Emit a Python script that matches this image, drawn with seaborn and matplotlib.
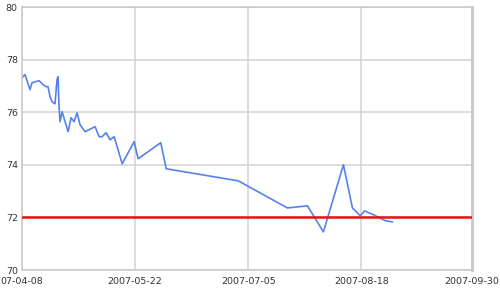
import matplotlib
matplotlib.use("Agg")
import matplotlib.pyplot as plt
import seaborn as sns
import pandas as pd

times = [
    "2007-04-08 00:00", "2007-04-09 04:00", "2007-04-11 03:00", "2007-04-11 21:00",
    "2007-04-14 15:00", "2007-04-16 04:00", "2007-04-17 08:00", "2007-04-18 03:00",
    "2007-04-18 22:00", "2007-04-19 16:00", "2007-04-20 20:00", "2007-04-21 15:00",
    "2007-04-22 00:00", "2007-04-22 10:00", "2007-04-22 19:00", "2007-04-23 14:00",
    "2007-04-24 18:00", "2007-04-25 22:00", "2007-04-27 02:00", "2007-04-28 06:00",
    "2007-04-29 10:00", "2007-04-30 14:00", "2007-05-02 13:00", "2007-05-06 10:00",
    "2007-05-08 00:00", "2007-05-09 04:00", "2007-05-10 17:00", "2007-05-12 06:00",
    "2007-05-13 20:00", "2007-05-16 23:00", "2007-05-21 15:00", "2007-05-23 04:00",
    "2007-05-31 23:00", "2007-06-03 02:00", "2007-07-01 03:00", "2007-07-20 05:00",
    "2007-07-28 00:00", "2007-08-03 05:00", "2007-08-11 00:00", "2007-08-14 12:00",
    "2007-08-17 14:00", "2007-08-19 05:00", "2007-08-22 17:00", "2007-08-27 10:00",
    "2007-08-30 02:00",
]
values = [
    77.31, 77.43, 76.86, 77.12, 77.20, 77.05, 76.97, 76.97,
    76.59, 76.40, 76.32, 77.24, 77.35, 76.21, 75.64, 76.02,
    75.64, 75.26, 75.79, 75.64, 75.98, 75.52, 75.26, 75.45,
    75.07, 75.07, 75.22, 74.95, 75.07, 74.04, 74.88, 74.23,
    74.84, 73.85, 73.39, 72.36, 72.44, 71.45, 74.00, 72.36,
    72.06, 72.25, 72.10, 71.87, 71.83,
]
threshold = 72
x_ticks = ["2007-04-08", "2007-05-22", "2007-07-05", "2007-08-18", "2007-09-30"]
x_tick_labels = ["07-04-08", "2007-05-22", "2007-07-05", "2007-08-18", "2007-09-30"]
y_ticks = [70, 72, 74, 76, 78, 80]

df = pd.DataFrame({"time": pd.to_datetime(times), "value": values})

sns.set_theme(style="white")
plt.rcParams["font.family"] = ["DejaVu Sans"]

fig = plt.figure(figsize=(5.0, 2.89), dpi=100)
ax = fig.add_axes([0.044, 0.0657, 0.900, 0.910])

sns.lineplot(data=df, x="time", y="value", ax=ax, color="#5582ea", linewidth=1.2)
ax.axhline(threshold, color="#ee1111", linewidth=1.8, zorder=3)

tick_dates = pd.to_datetime(x_ticks)
ax.set_xlim(tick_dates[0], tick_dates[-1])
ax.set_ylim(70, 80)
ax.set_xticks(tick_dates)
ax.set_xticklabels(x_tick_labels)
ax.set_yticks(y_ticks)
ax.set_yticklabels([str(v) for v in y_ticks])
ax.set_xlabel("")
ax.set_ylabel("")

ax.grid(True, color="#d2d2d2", linewidth=1.1)
ax.set_axisbelow(True)
for side, sp in ax.spines.items():
    sp.set_color("#c8c8c8")
    sp.set_linewidth(1.1)
ax.spines["right"].set_linewidth(2.0)

ax.tick_params(axis="both", length=0, labelsize=6.8, labelcolor="#333333")
ax.tick_params(axis="x", pad=5)
ax.tick_params(axis="y", pad=3)

fig.savefig("out.png", dpi=100)
